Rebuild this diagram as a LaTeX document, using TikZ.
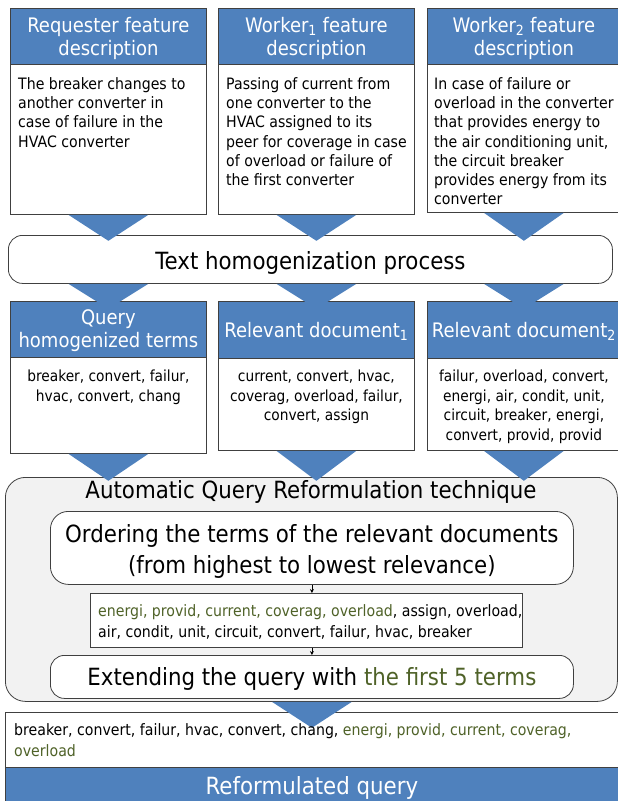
\documentclass[tikz,border=0pt]{standalone}
\usepackage{fontspec}
\setmainfont{DejaVu Sans}[FakeStretch=0.9]
\usetikzlibrary{calc,arrows.meta}
\definecolor{hblue}{HTML}{4F81BD}
\definecolor{tgreen}{HTML}{4F6228}
\definecolor{lgray}{HTML}{F2F2F2}
\definecolor{bord}{HTML}{404040}
\newcommand\dtri[2]{\fill[tri] ($(#1)+(-40,0)$) -- ($(#1)+(40,0)$) -- ($(#1)+(0,#2)$) -- cycle;}
\begin{document}
\begin{tikzpicture}[x=1pt,y=-1pt,
  hdr/.style={draw=bord, fill=hblue, line width=0.8pt, inner sep=0pt, anchor=north west, text=white, align=center},
  bodybox/.style={draw=bord, fill=white, line width=0.8pt, inner sep=0pt, anchor=north west},
  rbox/.style={draw=bord, fill=white, line width=0.8pt, inner sep=0pt, anchor=north west, rounded corners=14pt},
  hfont/.style={font=\fontsize{20}{23}\selectfont},
  bfont/.style={font=\fontsize{15.7}{19.3}\selectfont},
  sfont/.style={font=\fontsize{15.3}{19.5}\selectfont},
  lfont/.style={font=\fontsize{23.7}{31}\selectfont},
  mfont/.style={font=\fontsize{15.7}{21}\selectfont},
  tri/.style={fill=hblue},
  small arrow/.style={-{Stealth[length=4pt,width=4pt]}, line width=0.6pt},
  txt/.style={inner sep=0pt}]
\useasboundingbox (0,0) rectangle (618,801);
% ---- row 1
\node[hdr, minimum width=196pt, minimum height=56pt] (h1) at (10,8) {};
\node[hdr, minimum width=196pt, minimum height=56pt] (h2) at (218,8) {};
\node[hdr, minimum width=193pt, minimum height=56pt] (h3) at (427,8) {};
\node[txt, hfont, text=white, align=center] (h1t) at ($(h1.center)+(0,2)$) {Requester feature\\description};
\node[txt, hfont, text=white, align=center] (h2t) at ($(h2.center)+(0,2)$) {Worker\textsubscript{1} feature\\description};
\node[txt, hfont, text=white, align=center] (h3t) at ($(h3.center)+(0,2)$) {Worker\textsubscript{2} feature\\description};
\node[bodybox, minimum width=196pt, minimum height=150pt] (b1) at (10,64) {};
\node[bodybox, minimum width=196pt, minimum height=150pt] (b2) at (218,64) {};
\node[bodybox, minimum width=193pt, minimum height=148pt] (b3) at (427,64) {};
\node[txt, bfont, align=left, anchor=north west] (t1) at (18,77) {The breaker changes to\\another converter in\\case of failure in the\\HVAC converter};
\node[txt, bfont, align=left, anchor=north west] (t2) at (226,77) {Passing of current from\\one converter to the\\HVAC assigned to its\\peer for coverage in case\\of overload or failure of\\the first converter};
\node[txt, bfont, align=left, anchor=north west] (t3) at (434,77) {In case of failure or\\overload in the converter\\that provides energy to\\the air conditioning unit,\\the circuit breaker\\provides energy from its\\converter};
% ---- homogenization
\node[rbox, minimum width=604pt, minimum height=48pt, lfont, text height=22pt, text depth=2pt] (hom) at (8,235) {Text homogenization process};
% ---- row 2
\node[hdr, minimum width=196pt, minimum height=56pt] (q1) at (10,301) {};
\node[txt, hfont, text=white, align=center] (q1t) at ($(q1.center)+(0,1)$) {Query\\homogenized terms};
\node[hdr, hfont, minimum width=196pt, minimum height=57pt, text height=17pt, text depth=2pt] (q2) at (218,301) {Relevant document\textsubscript{1}};
\node[hdr, hfont, minimum width=193pt, minimum height=57pt, text height=17pt, text depth=2pt] (q3) at (427,301) {Relevant document\textsubscript{2}};
\node[bodybox, minimum width=196pt, minimum height=96pt] (c1) at (10,357) {};
\node[bodybox, minimum width=196pt, minimum height=92pt] (c2) at (218,358) {};
\node[bodybox, minimum width=193pt, minimum height=92pt] (c3) at (427,358) {};
\node[txt, sfont, align=center, anchor=north] (u1) at ($(c1.north)+(0,13)$) {breaker, convert, failur,\\hvac, convert, chang};
\node[txt, sfont, align=center, anchor=north] (u2) at ($(c2.north)+(0,12)$) {current, convert, hvac,\\coverag, overload, failur,\\convert, assign};
\node[txt, sfont, align=center, anchor=north] (u3) at ($(c3.north)+(0,12)$) {failur, overload, convert,\\energi, air, condit, unit,\\circuit, breaker, energi,\\convert, provid, provid};
% ---- reformulation technique
\node[draw=bord, fill=lgray, line width=0.8pt, rounded corners=20pt, minimum width=612pt, minimum height=224pt, anchor=north west, inner sep=0pt] (aqr) at (5,477) {};
\node[txt, lfont, anchor=base] (aqt) at (311,498) {Automatic Query Reformulation technique};
\node[rbox, rounded corners=18pt, minimum width=523pt, minimum height=73pt] (ord) at (50,511) {};
\node[txt, lfont, align=center] (ordt) at ($(ord.center)+(0,4)$) {Ordering the terms of the relevant documents\\(from highest to lowest relevance)};
\node[bodybox, minimum width=432pt, minimum height=54pt] (lst) at (90,593) {};
\node[txt, mfont, align=left, anchor=west] (lt) at ($(lst.west)+(8,2)$) {\textcolor{tgreen}{energi, provid, current, coverag, overload}, assign, overload,\\air, condit, unit, circuit, convert, failur, hvac, breaker};
\node[rbox, minimum width=523pt, minimum height=43pt, lfont, text height=20pt, text depth=3pt] (ext) at (50,655) {Extending the query with \textcolor{tgreen}{the first 5 terms}};
\draw[small arrow] (ord.south) -- (ord.south |- lst.north);
\draw[small arrow] (ord.south |- lst.south) -- (ord.south |- ext.north);
% ---- result
\node[bodybox, minimum width=613pt, minimum height=56pt] (res) at (5,712) {};
\node[draw=bord, fill=hblue, line width=0.8pt, anchor=north west, inner sep=0pt, minimum width=613pt, minimum height=36pt, text=white, lfont, text height=20pt, text depth=2pt] (rq) at (5,767) {Reformulated query};
% ---- triangles
\dtri{b1.south}{26}
\dtri{b2.south}{26}
\dtri{b3.south}{28}
\dtri{hom.south -| b1.south}{25}
\dtri{hom.south -| b2.south}{25}
\dtri{hom.south -| b3.south}{25}
\dtri{c1.south}{27}
\dtri{c2.south}{30}
\dtri{c3.south}{30}
\dtri{aqr.south -| ext.south}{26}
\node[txt, mfont, align=left, anchor=north west] (rt) at (14,723) {breaker, convert, failur, hvac, convert, chang, \textcolor{tgreen}{energi, provid, current, coverag,}\\\textcolor{tgreen}{overload}};
\end{tikzpicture}
\end{document}
